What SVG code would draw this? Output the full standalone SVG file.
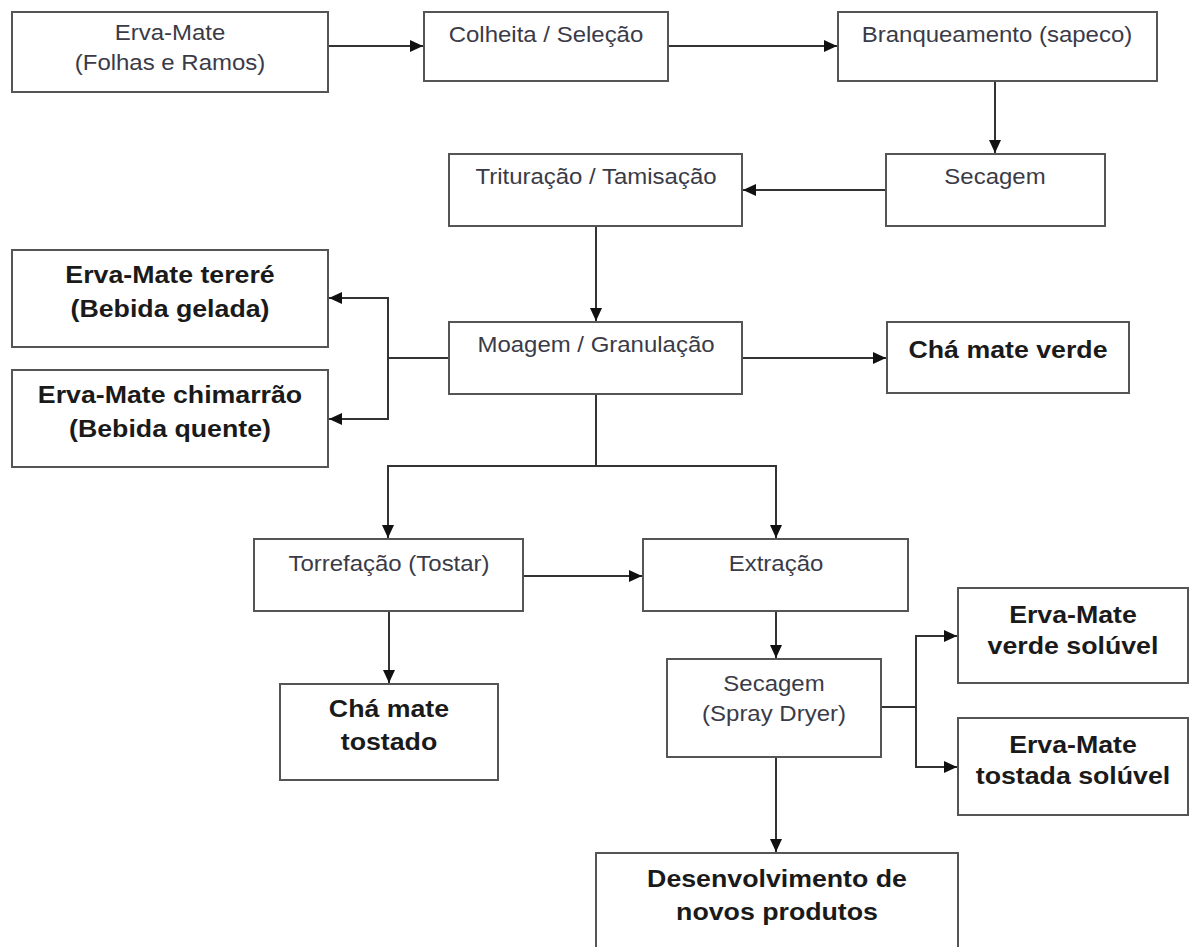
<svg xmlns="http://www.w3.org/2000/svg" width="1195" height="947" viewBox="0 0 1195 947">
<style>
.box{fill:#fff;stroke:#555;stroke-width:2}
.n{font-family:"Liberation Sans",Arial,sans-serif;font-size:21.8px;fill:#3b3b48;text-anchor:middle}
.b{font-family:"Liberation Sans",Arial,sans-serif;font-size:24.3px;font-weight:bold;fill:#1a1a1a;text-anchor:middle}
.c{fill:none;stroke:#333;stroke-width:2}
.a{marker-end:url(#arr)}
</style>
<defs>
<marker id="arr" markerUnits="userSpaceOnUse" markerWidth="14" markerHeight="14" refX="13" refY="7" orient="auto">
<path d="M0,1 L13,7 L0,13 z" fill="#111"/>
</marker>
</defs>
<rect width="1195" height="947" fill="#fff"/>
<g id="connectors">
<path class="c a" d="M328,46 H423"/>
<path class="c a" d="M668,46 H837"/>
<path class="c a" d="M995,81 V153"/>
<path class="c a" d="M886,190 H743"/>
<path class="c a" d="M596,226 V321"/>
<path class="c" d="M449,358 H388"/>
<path class="c a" d="M388,358 V298 H329"/>
<path class="c a" d="M388,358 V419 H329"/>
<path class="c a" d="M742,358 H886"/>
<path class="c" d="M596,394 V466"/>
<path class="c a" d="M596,466 H388 V538"/>
<path class="c a" d="M596,466 H776 V538"/>
<path class="c a" d="M523,576 H642"/>
<path class="c a" d="M389,611 V683"/>
<path class="c a" d="M776,611 V658"/>
<path class="c" d="M881,707 H916"/>
<path class="c a" d="M916,707 V636 H957"/>
<path class="c a" d="M916,707 V767 H957"/>
<path class="c a" d="M776,757 V852"/>
</g>
<g id="n1"><rect class="box" x="12" y="12" width="316" height="80"/>
<text class="n" transform="translate(170,40) scale(1.1,1)">Erva-Mate</text>
<text class="n" transform="translate(170,70) scale(1.1,1)">(Folhas e Ramos)</text></g>
<g id="n2"><rect class="box" x="424" y="12" width="244" height="69"/>
<text class="n" transform="translate(546,42) scale(1.1,1)">Colheita / Seleção</text></g>
<g id="n3"><rect class="box" x="838" y="12" width="319" height="69"/>
<text class="n" transform="translate(997,42) scale(1.1,1)">Branqueamento (sapeco)</text></g>
<g id="n4"><rect class="box" x="886" y="154" width="219" height="72"/>
<text class="n" transform="translate(995,184) scale(1.1,1)">Secagem</text></g>
<g id="n5"><rect class="box" x="449" y="154" width="293" height="72"/>
<text class="n" transform="translate(596,184) scale(1.1,1)">Trituração / Tamisação</text></g>
<g id="n6"><rect class="box" x="449" y="322" width="293" height="72"/>
<text class="n" transform="translate(596,352) scale(1.1,1)">Moagem / Granulação</text></g>
<g id="n7"><rect class="box" x="12" y="250" width="316" height="97"/>
<text class="b" transform="translate(170,283) scale(1.1,1)">Erva-Mate tereré</text>
<text class="b" transform="translate(170,317) scale(1.1,1)">(Bebida gelada)</text></g>
<g id="n8"><rect class="box" x="12" y="370" width="316" height="97"/>
<text class="b" transform="translate(170,403) scale(1.1,1)">Erva-Mate chimarrão</text>
<text class="b" transform="translate(170,437) scale(1.1,1)">(Bebida quente)</text></g>
<g id="n9"><rect class="box" x="887" y="322" width="242" height="71"/>
<text class="b" transform="translate(1008,358) scale(1.1,1)">Chá mate verde</text></g>
<g id="n10"><rect class="box" x="254" y="539" width="269" height="72"/>
<text class="n" transform="translate(389,571) scale(1.1,1)">Torrefação (Tostar)</text></g>
<g id="n11"><rect class="box" x="643" y="539" width="265" height="72"/>
<text class="n" transform="translate(776,571) scale(1.1,1)">Extração</text></g>
<g id="n12"><rect class="box" x="280" y="684" width="218" height="96"/>
<text class="b" transform="translate(389,717) scale(1.1,1)">Chá mate</text>
<text class="b" transform="translate(389,750) scale(1.1,1)">tostado</text></g>
<g id="n13"><rect class="box" x="667" y="659" width="214" height="98"/>
<text class="n" transform="translate(774,691) scale(1.1,1)">Secagem</text>
<text class="n" transform="translate(774,721) scale(1.1,1)">(Spray Dryer)</text></g>
<g id="n14"><rect class="box" x="958" y="588" width="230" height="95"/>
<text class="b" transform="translate(1073,623) scale(1.1,1)">Erva-Mate</text>
<text class="b" transform="translate(1073,654) scale(1.1,1)">verde solúvel</text></g>
<g id="n15"><rect class="box" x="958" y="718" width="230" height="97"/>
<text class="b" transform="translate(1073,753) scale(1.1,1)">Erva-Mate</text>
<text class="b" transform="translate(1073,784) scale(1.1,1)">tostada solúvel</text></g>
<g id="n16"><rect class="box" x="596" y="853" width="362" height="110"/>
<text class="b" transform="translate(777,887) scale(1.1,1)">Desenvolvimento de</text>
<text class="b" transform="translate(777,920) scale(1.1,1)">novos produtos</text></g>
</svg>
